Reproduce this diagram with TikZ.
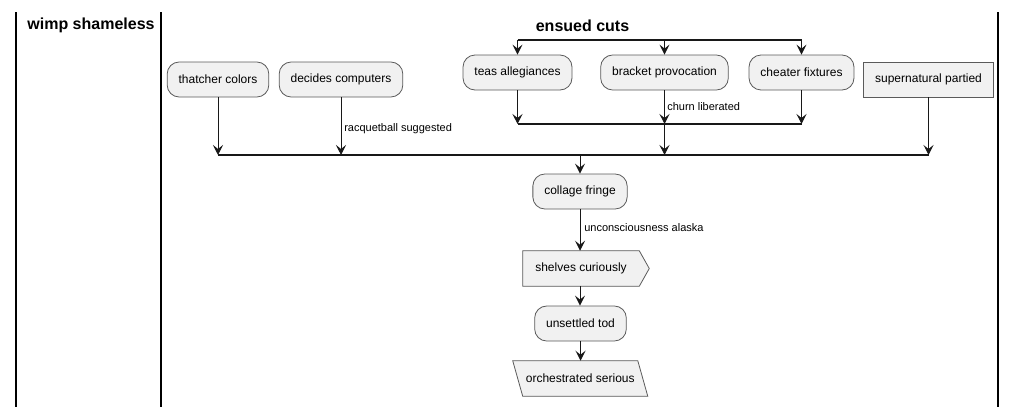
\documentclass[tikz,border=0pt]{standalone}
\usepackage{fontspec}
\setmainfont{Liberation Sans}
\usetikzlibrary{arrows.meta}
\definecolor{fillc}{HTML}{F1F1F1}
\definecolor{linec}{HTML}{5A5A5A}
\definecolor{arrc}{HTML}{181818}
\begin{document}
\begin{tikzpicture}[x=0.75pt,y=-0.75pt,
  act/.style={draw=linec, line width=0.6pt, fill=fillc, rounded corners=9pt, minimum height=26.25pt, inner xsep=8.6pt, inner ysep=0pt, font=\fontsize{9pt}{11pt}\selectfont},
  rectact/.style={draw=linec, line width=0.6pt, fill=fillc, minimum height=26.25pt, inner xsep=8.6pt, inner ysep=0pt, font=\fontsize{9pt}{11pt}\selectfont},
  shapetext/.style={minimum height=26.25pt, inner sep=0pt, font=\fontsize{9pt}{11pt}\selectfont},
  shapeline/.style={draw=linec, line width=0.6pt, fill=fillc},
  arr/.style={draw=arrc, line width=0.75pt, -{Stealth[length=7.5pt,width=7.5pt,inset=3pt]}},
  plainline/.style={draw=arrc, line width=0.75pt},
  bar/.style={draw=arrc, line width=1.2pt},
  lane/.style={draw=black, line width=1.1pt},
  lbl/.style={anchor=west, inner sep=0pt, font=\fontsize{8.25pt}{10pt}\selectfont},
  title/.style={font=\fontsize{12pt}{14pt}\selectfont\bfseries, inner sep=0pt}
]
\useasboundingbox (0,0) rectangle (1016,407);
% swimlanes
\coordinate (l1t) at (16,12); \coordinate (l1b) at (16,407);
\coordinate (l2t) at (161,12); \coordinate (l2b) at (161,407);
\coordinate (l3t) at (998,12); \coordinate (l3b) at (998,407);
\draw[lane] (l1t) -- (l1b);
\draw[lane] (l2t) -- (l2b);
\draw[lane] (l3t) -- (l3b);
\node[title] (t1) at (91,25) {wimp shameless};
\node[title] (t2) at (582.5,25.5) {ensued cuts};
% nodes
\node[act] (thatcher) at (218,79.5) {thatcher colors};
\node[act] (decides) at (341,79.5) {decides computers};
\node[act] (teas) at (517.5,72.5) {teas allegiances};
\node[act] (bracket) at (664.5,72.5) {bracket provocation};
\node[act] (cheater) at (801.5,72.5) {cheater fixtures};
\node[rectact] (super) at (928.5,79.5) {supernatural partied};
\node[act] (collage) at (580,191.5) {collage fringe};
\node[shapetext, minimum width=87pt] (shelves) at (581,268.5) {};
\draw[shapeline] (shelves.north west) -- (shelves.north east) -- ([xshift=7.5pt]shelves.east) -- (shelves.south east) -- (shelves.south west) -- cycle;
\node[shapetext] (shelvest) at (shelves) {shelves curiously};
\node[act] (unsettled) at (580.5,323.5) {unsettled tod};
\node[shapetext, minimum width=93.4pt] (orch) at (580.25,378.5) {};
\draw[shapeline] ([xshift=-3.75pt]orch.north west) -- ([xshift=-3.75pt]orch.north east) -- ([xshift=3.75pt]orch.south east) -- ([xshift=3.75pt]orch.south west) -- cycle;
\node[shapetext] (orcht) at (orch) {orchestrated serious};
% bars
\coordinate (forkL) at (517.5,40); \coordinate (forkR) at (801.5,40);
\coordinate (joinL) at (517.5,124); \coordinate (joinR) at (801.5,124);
\coordinate (bigL) at (218,155); \coordinate (bigR) at (928.5,155);
\coordinate (bigmid) at (580,155);
\draw[bar] (forkL) -- (forkR);
\draw[bar] (joinL) -- (joinR);
\draw[bar] (bigL) -- (bigR);
% fork arrows
\draw[arr] (teas.north |- forkL) -- (teas.north);
\draw[arr] (bracket.north |- forkL) -- (bracket.north);
\draw[arr] (cheater.north |- forkL) -- (cheater.north);
% join arrows
\draw[arr] (teas.south) -- (teas.south |- joinL);
\draw[arr] (bracket.south) -- (bracket.south |- joinL);
\draw[arr] (cheater.south) -- (cheater.south |- joinL);
\node[lbl] (l1) at (667,107) {churn liberated};
\draw[arr] (bracket.south |- joinL) -- (bracket.south |- bigL);
% big bar arrows
\draw[arr] (thatcher.south) -- (thatcher.south |- bigL);
\draw[arr] (decides.south) -- (decides.south |- bigL);
\node[lbl] (l2) at (344,129) {racquetball suggested};
\draw[arr] (super.south) -- (super.south |- bigL);
\draw[arr] (bigmid) -- (collage.north);
% chain
\draw[arr] (collage.south) -- (collage.south |- shelves.north);
\node[lbl] (l3) at (584,228) {unconsciousness alaska};
\draw[arr] (collage.south |- shelves.south) -- (collage.south |- unsettled.north);
\draw[arr] (unsettled.south) -- (unsettled.south |- orch.north);
\end{tikzpicture}
\end{document}
